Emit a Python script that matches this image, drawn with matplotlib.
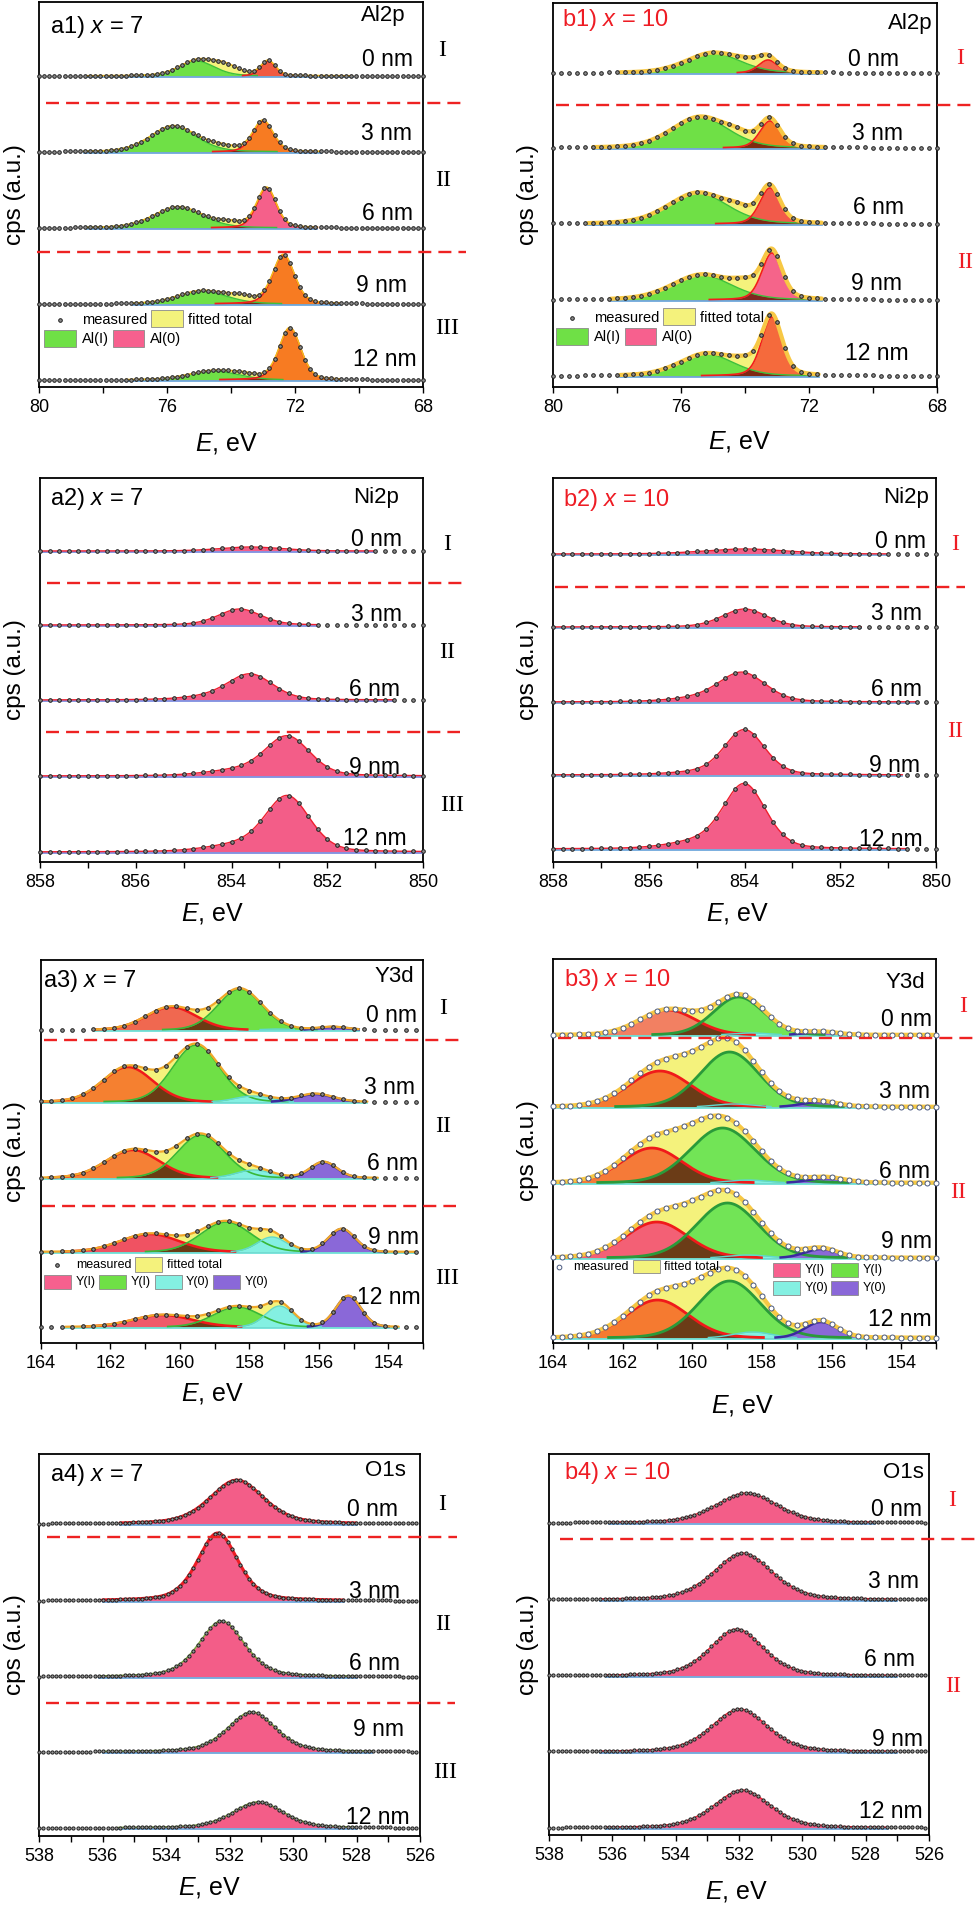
import numpy as np
import matplotlib
matplotlib.use("Agg")
import matplotlib.pyplot as plt
from matplotlib.patches import Rectangle
from matplotlib.lines import Line2D
from matplotlib.ticker import MultipleLocator, FormatStrFormatter

W, H = 975, 1905

plt.rcParams['font.family'] = ['Liberation Sans', 'DejaVu Sans']
plt.rcParams['mathtext.fontset'] = 'custom'
plt.rcParams['mathtext.rm'] = 'Liberation Sans'
plt.rcParams['mathtext.it'] = 'Liberation Sans:italic'

depths = ["0 nm", "3 nm", "6 nm", "9 nm", "12 nm"]

# fitted peaks: (centre eV, height a.u., FWHM eV), one entry per depth
a1_al1 = [(75.07, 15, 1.3), (75.8, 26, 1.7), (75.65, 21, 1.8), (74.9, 13, 1.8), (74.55, 9, 1.8)]
a1_al0 = [(72.84, 15, 0.55), (73.0, 31, 0.75), (72.89, 40, 0.72), (72.36, 49, 0.8), (72.16, 52, 0.8)]
a1_rest = [(74.2, 9, 1.1), (74.3, 4, 1.2), (74.0, 4, 1.0), (73.7, 5, 1.0), (73.6, 3, 1.0)]

b1_al1 = [(75.0, 20, 2.0), (75.4, 31, 2.1), (75.47, 31, 2.2), (75.35, 25, 2.2), (75.2, 22, 2.0)]
b1_al0 = [(73.28, 13, 0.7), (73.22, 27, 0.75), (73.22, 36, 0.75), (73.16, 47, 0.75), (73.16, 59, 0.75)]
b1_rest = [(73.9, 5, 1.0), (74.2, 6, 1.0), (74.2, 7, 1.0), (74.0, 10, 1.0), (74.0, 8, 1.0)]

a2_ni = [(853.6, 4, 1.5), (853.83, 16, 1.05), (853.6, 25, 1.1), (852.83, 39, 1.1), (852.83, 55, 1.1)]
a2_sh = [None, None, (854.4, 3, 1.4), (853.9, 5, 1.5), (853.9, 6, 1.5)]
b2_ni = [(854.0, 5, 2.0), (854.0, 18, 1.1), (854.05, 29, 1.15), (854.0, 45, 1.0), (854.0, 64, 1.05)]
b2_sh = [None, None, (855.0, 3, 1.4), (855.0, 2, 1.4), (855.0, 6, 1.4)]

a3_red = [(160.25, 23, 1.7), (161.5, 35, 1.7), (161.36, 28, 1.8), (160.87, 18, 2.0), (160.5, 12, 2.0)]
a3_green = [(158.27, 41, 1.5), (159.53, 57, 1.6), (159.39, 43, 1.6), (158.67, 30, 1.7), (158.35, 20, 1.6)]
a3_cyan = [(157.2, 1, 1.0), (157.9, 6, 1.2), (157.87, 8, 1.2), (157.35, 15, 1.0), (157.13, 21, 0.95)]
a3_purple = [(155.6, 3, 1.0), (156.1, 8, 1.2), (155.86, 16, 0.9), (155.34, 23, 0.9), (155.15, 31, 0.85)]

b3_red = [(160.7, 25, 1.9), (160.93, 36, 2.1), (161.16, 35, 2.05), (161.02, 36, 2.1), (161.0, 38, 2.1)]
b3_green = [(158.67, 38, 1.7), (158.93, 55, 2.0), (159.13, 55, 2.2), (158.99, 55, 2.1), (158.93, 57, 2.1)]
b3_cyan = [(158.3, 2, 1.2), (158.8, 3, 1.3), (158.4, 3, 1.3), (158.4, 3, 1.3), (158.27, 6, 1.3)]
b3_purple = [(156.3, 3, 1.1), (156.35, 5, 1.2), (156.15, 5, 1.2), (156.3, 9, 1.1), (156.3, 16, 1.1)]
b3_rest = [None, (159.8, 10, 2.6), (159.9, 10, 2.6), (159.8, 10, 2.6), (159.7, 9, 2.6)]

a4_o = [(531.77, 44, 2.0), (532.37, 68, 1.5), (532.25, 56, 1.7), (531.3, 40, 1.8), (531.1, 26, 1.9)]
b4_o = [(531.76, 30, 2.3), (531.88, 47, 2.2), (532.07, 47, 2.0), (531.98, 43, 2.1), (531.9, 38, 2.1)]

# energy window of every fit (high, low)
a1_fit = [(78.5, 70.2), (78.6, 71.2), (78.5, 71.3), (77.05, 70.6), (77.3, 70.6)]
b1_fit = [(77.9, 71.6), (78.75, 71.5), (78.9, 71.6), (78.2, 71.6), (77.9, 71.7)]
a2_fit = [(858, 851.0), (858, 852.2), (858, 850.6), (858, 850.0), (858, 850.0)]
b2_fit = [(858, 851.0), (858, 851.56), (858, 850.4), (858, 850.7), (858, 850.6)]
a3_fit = [(162.45, 154.85), (164, 154.6), (164, 154.3), (164, 153.2), (163.3, 153.7)]
b3_fit = [(164, 153)] * 5
a4_fit = [(535.45, 528.0), (536.0, 528.4), (536.1, 528.0), (536.0, 527.5), (535.5, 528.0)]
b4_fit = [(536.1, 527.7), (536.4, 527.0), (536.2, 527.0), (536.4, 527.0), (536.2, 527.3)]

RED = '#ee1c24'
GREEN = '#6fe046'
PINK = '#f35d88'
CYAN = '#84f0e2'
PURPLE = '#8a68d8'
YEL = '#f4f27c'
DOT = dict(ms=2.6, mfc='#8c8c8c', mec='#1e1e1e')
DOT_SMALL = dict(ms=2.3, mfc='#9a9a9a', mec='#1e1e1e')


def peak(E, p, eta):
    if p is None:
        return np.zeros_like(E)
    c, h, w = p
    u = (E - c) / w
    return h * (eta / (1 + 4 * u ** 2) + (1 - eta) * np.exp(-4 * np.log(2) * u ** 2))


def fx(x):
    return x / W


def fy(y):
    return 1 - y / H


fig = plt.figure(figsize=(W / 100, H / 100), dpi=100)

panels = [
    dict(box=(39, 2, 423, 387), xlim=(80, 68), major=4, minor=2, eta=0.3, step=0.16,
         base=[76, 152, 228, 304, 380], fit=a1_fit,
         comps=[(a1_al1, [GREEN] * 5, '#3cc03c', 1.0),
                (a1_al0, ['#f05a40', '#f77b22', '#f5608a', '#f77b22', '#f77b22'], '#f21c1c', 1.2)],
         rest=[a1_rest], tot_fill=YEL, tot_edge=['#f2b81c'] * 5, tot_lw=[1.2] * 5, overlap=(0, 1),
         baseline='#6fa8dc', dots=DOT),
    dict(box=(553, 3, 937, 387), xlim=(80, 68), major=4, minor=2, eta=0.3, step=0.25,
         base=[73, 148, 224, 300, 376], fit=b1_fit,
         comps=[(b1_al1, [GREEN] * 5, '#3cc03c', 1.0),
                (b1_al0, ['#f2664e', '#f77b22', '#f25a4a', '#f5648a', '#f56a3c'], '#f21c1c', 1.2)],
         rest=[b1_rest], tot_fill=YEL, tot_edge=['#f7c845'] * 5, tot_lw=[3.0] * 5, overlap=(0, 1),
         baseline='#6fa8dc', dots=DOT),
    dict(box=(40, 478, 423, 862), xlim=(858, 850), major=2, minor=1, eta=0.25, step=0.2,
         base=[551, 625, 700, 776, 852], fit=a2_fit, comps=[],
         rest=[a2_ni, a2_sh], tot_fill=PINK, tot_edge=['#ee2030'] * 5, tot_lw=[1.0] * 5, overlap=None,
         baseline='#7f8fe0', dots=DOT),
    dict(box=(553, 478, 936, 862), xlim=(858, 850), major=2, minor=1, eta=0.25, step=0.2,
         base=[554, 627, 702, 775, 849], fit=b2_fit, comps=[],
         rest=[b2_ni, b2_sh], tot_fill=PINK, tot_edge=['#ee2030'] * 5, tot_lw=[1.0] * 5, overlap=None,
         baseline='#6fa8dc', dots=DOT),
    dict(box=(41, 960, 423, 1343), xlim=(164, 153), major=2, minor=1, eta=0.1, step=0.3,
         base=[1030, 1102, 1178, 1252, 1327], fit=a3_fit,
         comps=[(a3_red, ['#f06850', '#f58030', '#f58035', '#f05262', '#f05a6a'], '#f01a1a', 1.8),
                (a3_green, [GREEN] * 5, '#38b838', 1.2),
                (a3_cyan, [CYAN] * 5, '#5fd8cf', 1.0),
                (a3_purple, [PURPLE] * 5, '#3a2aa0', 1.8)],
         rest=[], tot_fill=YEL, tot_edge=['#f0a82a'] * 5, tot_lw=[1.6] * 5, overlap=(0, 1),
         baseline='#6fe0d8', dots=DOT),
    dict(box=(553, 959, 936, 1343), xlim=(164, 153), major=2, minor=1, eta=0.1, step=0.25,
         base=[1035, 1107, 1183, 1258, 1338], fit=b3_fit,
         comps=[(b3_red, ['#f28062', '#f57a30', '#f57a38', '#f36075', '#f57a30'], '#f01a1a', 2.0),
                (b3_green, ['#72e456'] * 5, '#2a9a3a', 2.0),
                (b3_cyan, [CYAN] * 5, '#5fd8cf', 1.0),
                (b3_purple, [PURPLE] * 5, '#3a2aa0', 1.8)],
         rest=[b3_rest], tot_fill=YEL, tot_edge=['#f7c845'] * 5, tot_lw=[3.0] * 5, overlap=(0, 1),
         baseline='#6fe0d8', dots=dict(ms=3.6, mfc='white', mec='#4a5a80')),
    dict(box=(39, 1454, 420, 1836), xlim=(538, 526), major=2, minor=1, eta=0.4, step=0.135,
         base=[1524, 1601, 1677, 1752, 1828], fit=a4_fit, comps=[],
         rest=[a4_o], tot_fill=PINK, tot_edge=[RED, RED, '#7aa040', '#7aa040', '#7aa040'],
         tot_lw=[2.0, 2.2, 1.2, 1.2, 1.2], overlap=None, baseline='#6fa8dc', dots=DOT_SMALL),
    dict(box=(549, 1454, 929, 1835), xlim=(538, 526), major=2, minor=1, eta=0.4, step=0.135,
         base=[1523, 1600, 1676, 1752, 1828], fit=b4_fit, comps=[],
         rest=[b4_o], tot_fill=PINK, tot_edge=['#ee2030'] * 5, tot_lw=[1.0] * 5, overlap=None,
         baseline='#6fa8dc', dots=DOT_SMALL),
]

titles = [r"a1) $x$ = 7", r"b1) $x$ = 10", r"a2) $x$ = 7", r"b2) $x$ = 10",
          r"a3) $x$ = 7", r"b3) $x$ = 10", r"a4) $x$ = 7", r"b4) $x$ = 10"]
elements = ["Al2p", "Al2p", "Ni2p", "Ni2p", "Y3d", "Y3d", "O1s", "O1s"]

title_pos = [(50, 27), (562, 20), (50, 499), (563, 500), (43, 981), (564, 980), (50, 1475), (564, 1473)]
elem_pos = [(406, 15), (933, 23), (399, 497), (929, 497), (414, 976), (925, 983), (406, 1471), (924, 1473)]
xlab_pos = [(227, 443), (740, 442), (213, 913), (738, 913), (213, 1393), (743, 1405), (210, 1887), (737, 1892)]
depth_x = [[413, 412, 413, 407, 417], [899, 903, 904, 902, 909], [402, 402, 400, 400, 407],
           [926, 922, 922, 920, 923], [417, 415, 418, 419, 421], [932, 930, 930, 932, 932],
           [398, 400, 400, 404, 410], [922, 919, 915, 923, 923]]
depth_y = [[60, 133, 213, 285, 360], [60, 133, 207, 283, 353], [540, 614, 690, 767, 838],
           [541, 613, 689, 765, 840], [1015, 1087, 1163, 1237, 1297], [1020, 1092, 1172, 1242, 1320],
           [1510, 1591, 1664, 1729, 1817], [1509, 1582, 1660, 1739, 1811]]
roman_pos = [[(442, 50), (443, 180), (447, 328)], [(960, 58), (965, 263)],
             [(447, 545), (447, 653), (452, 805)], [(955, 545), (955, 732)],
             [(443, 1008), (443, 1127), (447, 1278)], [(963, 1007), (958, 1192)],
             [(442, 1505), (443, 1625), (445, 1772)], [(952, 1500), (953, 1687)]]
dash_pos = [[(46, 462, 103), (37, 466, 252)], [(556, 973, 105)],
            [(47, 462, 583), (46, 460, 732)], [(555, 965, 587)],
            [(44, 459, 1040), (42, 456, 1206)], [(558, 973, 1038)],
            [(47, 457, 1537), (46, 455, 1703)], [(560, 975, 1539)]]
romans = ["I", "II", "III"]

for k, p in enumerate(panels):
    x0, y0, x1, y1 = p['box']
    ax = fig.add_axes([fx(x0), fy(y1), (x1 - x0) / W, (y1 - y0) / H])
    ax.set_xlim(*p['xlim'])
    ax.set_ylim(y1, y0)
    eta = p['eta']
    for i, base in enumerate(p['base']):
        hi, lo = p['fit'][i]
        E = np.linspace(hi, lo, 600)
        parts = [peak(E, c[0][i], eta) for c in p['comps']]
        extra = sum(peak(E, r[i], eta) for r in p['rest']) if p['rest'] else np.zeros_like(E)
        total = sum(parts) + extra
        ax.fill_between(E, base, base - total, color=p['tot_fill'], lw=0, zorder=2)
        for (data, fills, edge, lw), part in zip(p['comps'], parts):
            ax.fill_between(E, base, base - part, color=fills[i], lw=0, zorder=3)
        if p['overlap'] is not None and parts:
            a, b = p['overlap']
            ax.fill_between(E, base, base - np.minimum(parts[a], parts[b]),
                            color='#6a1e0c', alpha=0.85, lw=0, zorder=3.5)
        ax.plot([hi, lo], [base + 0.5, base + 0.5], color=p['baseline'], lw=1.3, zorder=3.8)
        for (data, fills, edge, lw), part in zip(p['comps'], parts):
            ax.plot(E, np.where(part > 0.5, base - part, np.nan), color=edge, lw=lw, zorder=4)
        ax.plot(E, base - total, color=p['tot_edge'][i], lw=p['tot_lw'][i], zorder=4.5,
                solid_capstyle='round')
        Ed = np.arange(p['xlim'][0], p['xlim'][1] - 1e-6, -p['step'])
        model = sum(peak(Ed, c[0][i], eta) for c in p['comps']) if p['comps'] else np.zeros_like(Ed)
        if p['rest']:
            model = model + sum(peak(Ed, r[i], eta) for r in p['rest'])
        ax.plot(Ed, base - model, 'o', ls='none', ms=p['dots']['ms'], mfc=p['dots']['mfc'],
                mec=p['dots']['mec'], mew=0.7, zorder=6, clip_on=False)

    ax.xaxis.set_major_locator(MultipleLocator(p['major']))
    ax.xaxis.set_minor_locator(MultipleLocator(p['minor']))
    ax.xaxis.set_major_formatter(FormatStrFormatter('%d'))
    ax.tick_params(axis='x', which='both', direction='out', top=False, labelsize=13, pad=4, width=1.0)
    ax.tick_params(axis='x', which='major', length=4.5)
    ax.tick_params(axis='x', which='minor', length=4.0)
    ax.set_yticks([])
    for s in ax.spines.values():
        s.set_linewidth(1.3)

    col = 'black' if k % 2 == 0 else RED
    tx, ty = title_pos[k]
    fig.text(fx(tx), fy(ty), titles[k], fontsize=17, color=col, ha='left', va='center')
    ex, ey = elem_pos[k]
    fig.text(fx(ex), fy(ey), elements[k], fontsize=16, ha='right', va='center')
    lx, ly = xlab_pos[k]
    fig.text(fx(lx), fy(ly), r"$E$, eV", fontsize=18, ha='center', va='center')
    yl_x = 15 if k % 2 == 0 else 528
    fig.text(fx(yl_x), fy((y0 + y1) / 2), "cps (a.u.)", fontsize=17.5, rotation=90,
             ha='center', va='center')
    for j, d in enumerate(depths):
        fig.text(fx(depth_x[k][j]), fy(depth_y[k][j]), d, fontsize=16.5, ha='right', va='center')
    for j, (rx, ry) in enumerate(roman_pos[k]):
        fig.text(fx(rx), fy(ry), romans[j], fontsize=17, color=col, family='Liberation Serif',
                 ha='center', va='center')
    for (dx0, dx1, dy) in dash_pos[k]:
        fig.add_artist(Line2D([fx(dx0), fx(dx1)], [fy(dy), fy(dy)], transform=fig.transFigure,
                              color='#ee2222', lw=1.7, dashes=(5.5, 3)))


def patch(xa, xb, ya, yb, color):
    fig.add_artist(Rectangle((fx(xa), fy(yb)), (xb - xa) / W, (yb - ya) / H, transform=fig.transFigure,
                             facecolor=color, edgecolor='#8a8a8a', lw=0.6, zorder=10))


def label(x, y, s, size):
    fig.text(fx(x), fy(y), s, fontsize=size, ha='left', va='center', zorder=10)


def dot(x, y, ms, mfc, mec):
    fig.add_artist(Line2D([fx(x)], [fy(y)], transform=fig.transFigure, marker='o', ls='none',
                          ms=ms, mfc=mfc, mec=mec, mew=0.7, zorder=10))


# legends of the Al2p panels
for (ox, oy) in [(0, 0), (512, -2)]:
    dot(60 + ox, 320 + oy, 2.6, DOT['mfc'], DOT['mec'])
    label(82 + ox, 320 + oy, "measured", 10.5)
    patch(151 + ox, 183 + ox, 310 + oy, 327 + oy, YEL)
    label(188 + ox, 320 + oy, "fitted total", 10.5)
    patch(44 + ox, 76 + ox, 330 + oy, 347 + oy, GREEN)
    label(82 + ox, 339 + oy, "Al(I)", 10.5)
    patch(113 + ox, 144 + ox, 330 + oy, 347 + oy, '#f7608e')
    label(150 + ox, 339 + oy, "Al(0)", 10.5)

# legend of a3
dot(57, 1265, 2.6, DOT['mfc'], DOT['mec'])
label(76, 1265, "measured", 9)
patch(135, 162, 1257, 1272, YEL)
label(167, 1265, "fitted total", 9)
for xa, c in zip([44, 99, 155, 213], ['#f7608e', GREEN, CYAN, PURPLE]):
    patch(xa, xa + 27, 1275, 1289, c)
for xt, s in zip([76, 131, 186, 245], ["Y(I)", "Y(I)", "Y(0)", "Y(0)"]):
    label(xt, 1282, s, 9)

# legend of b3
dot(559, 1267, 3.4, 'white', '#4a5a80')
label(573, 1267, "measured", 9)
patch(633, 660, 1260, 1273, YEL)
label(664, 1267, "fitted total", 9)
patch(773, 800, 1263, 1277, '#f7608e')
label(805, 1270, "Y(I)", 9)
patch(831, 858, 1263, 1277, GREEN)
label(863, 1270, "Y(I)", 9)
patch(773, 800, 1281, 1295, CYAN)
label(805, 1288, "Y(0)", 9)
patch(831, 858, 1281, 1295, PURPLE)
label(863, 1288, "Y(0)", 9)

fig.savefig("out.png", dpi=100)
